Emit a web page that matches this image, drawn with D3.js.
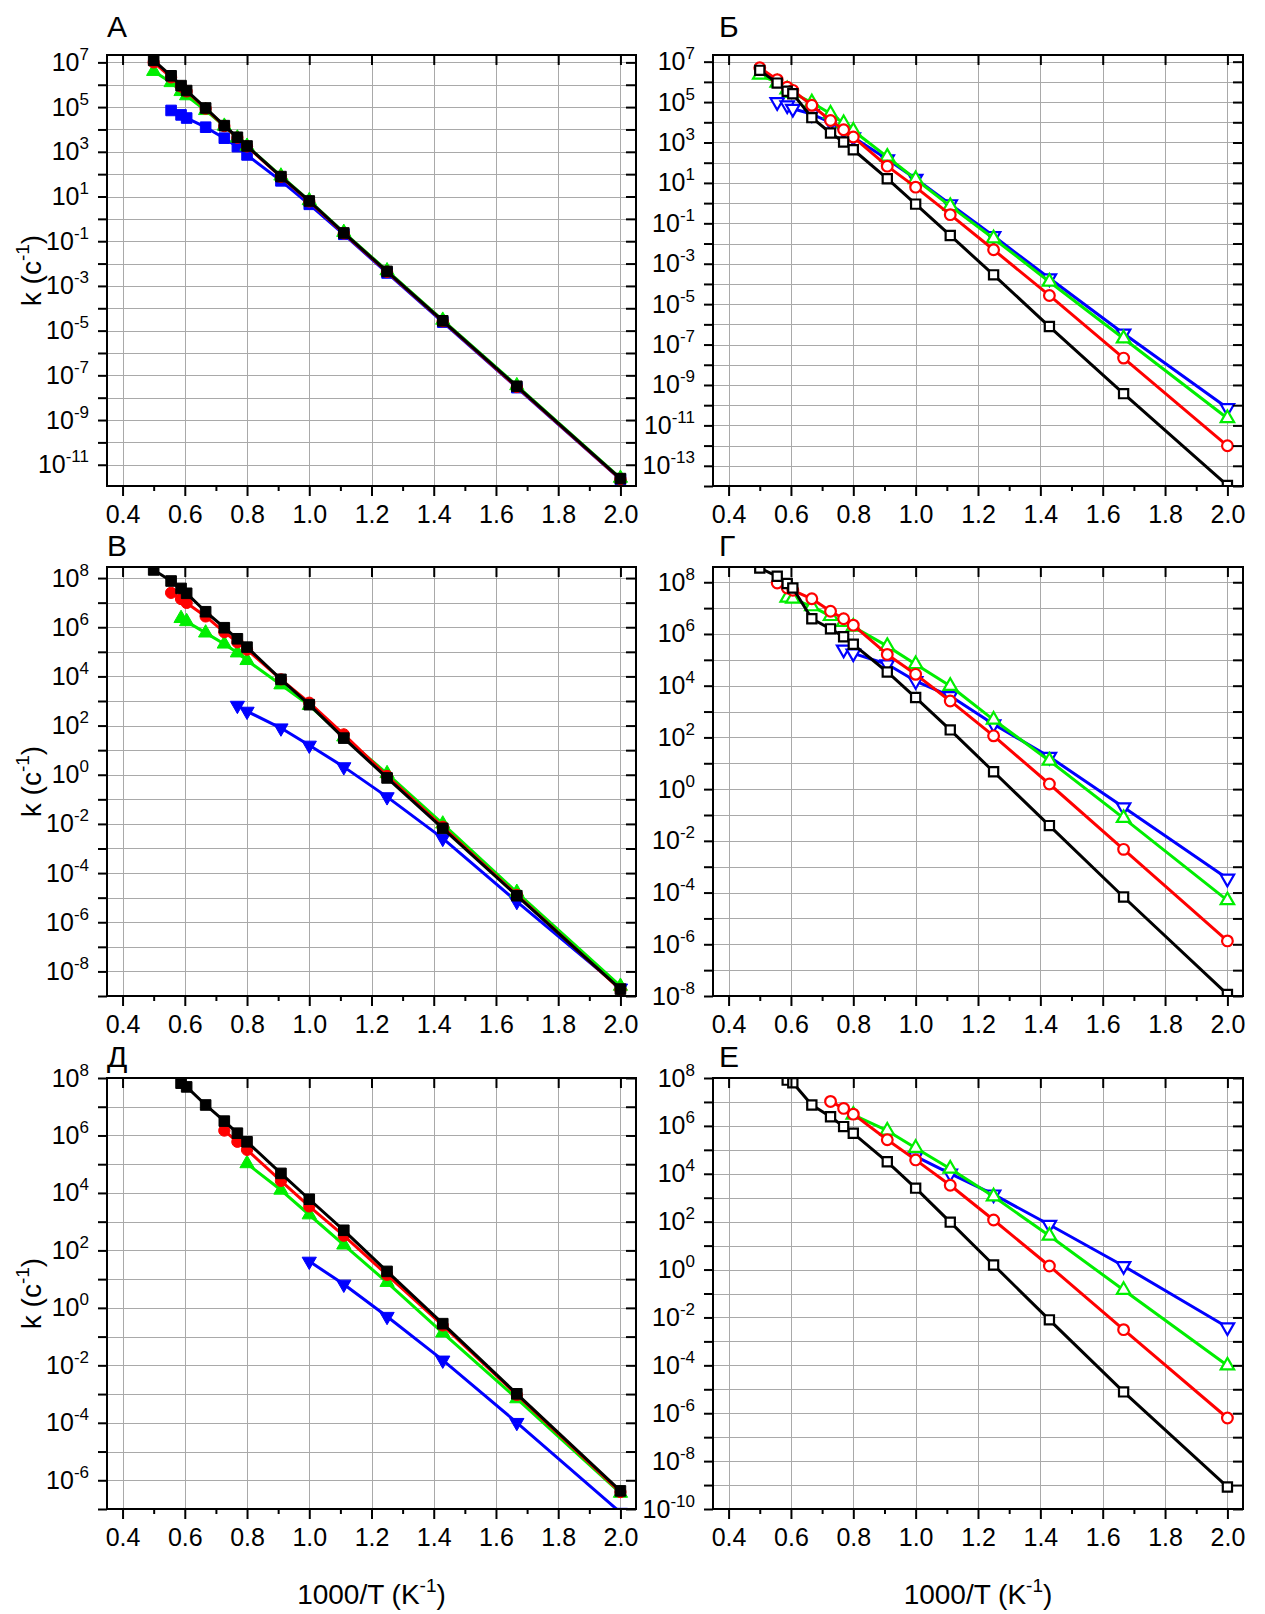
<!DOCTYPE html>
<html>
<head>
<meta charset="utf-8">
<script src="https://cdn.jsdelivr.net/npm/d3@7"></script>
<style>
  body { margin: 0; background: #fff; }
  svg text { font-family: "Liberation Sans", Arial, sans-serif; fill: #000; }
</style>
</head>
<body>
<svg id="chart" width="1265" height="1614"></svg>
<script>
// ---------------- DATA ----------------
// 1000/T (K^-1) for all series
const invT = [0.5, 0.556, 0.588, 0.606, 0.667, 0.727, 0.769, 0.8, 0.909, 1.0, 1.111, 1.25, 1.429, 1.667, 2.0];

// x-axis ticks
const xMajorTicks = [0.4, 0.6, 0.8, 1.0, 1.2, 1.4, 1.6, 1.8, 2.0];
const xMinorTicks = [0.5, 0.7, 0.9, 1.1, 1.3, 1.5, 1.7, 1.9];

// panel letters
const panelLetters = ["А", "Б", "В", "Г", "Д", "Е"];

// labelled y-tick exponents (k = 10^n)
const yLabelExpA = [7, 5, 3, 1, -1, -3, -5, -7, -9, -11];
const yLabelExpB = [7, 5, 3, 1, -1, -3, -5, -7, -9, -11, -13];
const yLabelExpV = [8, 6, 4, 2, 0, -2, -4, -6, -8];
const yLabelExpG = [8, 6, 4, 2, 0, -2, -4, -6, -8];
const yLabelExpD = [8, 6, 4, 2, 0, -2, -4, -6];
const yLabelExpE = [8, 6, 4, 2, 0, -2, -4, -6, -8, -10];

// y-axis ranges k (c^-1)
const yRangeA = [1.12e-12, 2.14e7];
const yRangeB = [1.0e-14, 2.14e7];
const yRangeV = [1.0e-9, 2.82e8];
const yRangeG = [1.0e-8, 3.89e8];
const yRangeD = [1.0e-7, 1.0e8];
const yRangeE = [1.0e-10, 1.0e8];

// Panel А (filled markers)
const kA_black = [1.23e7, 2.51e6, 9.12e5, 5.50e5, 9.12e4, 1.48e4, 4.47e3, 1.82e3, 7.76e1, 6.31, 2.34e-1, 4.47e-3, 2.75e-5, 3.24e-8, 2.40e-12];
const kA_red   = [1.0e7, 2.14e6, 8.32e5, 5.01e5, 8.51e4, 1.41e4, 4.27e3, 1.74e3, 7.59e1, 6.03, 2.24e-1, 4.27e-3, 2.63e-5, 3.02e-8, 2.29e-12];
const kA_green = [3.98e6, 1.26e6, 5.01e5, 3.24e5, 7.08e4, 1.41e4, 4.17e3, 1.78e3, 8.32e1, 6.61, 2.51e-1, 4.79e-3, 2.95e-5, 3.47e-8, 2.51e-12];
const kA_blue  = [null, 7.08e4, 4.47e4, 3.24e4, 1.26e4, 4.07e3, 1.70e3, 7.24e2, 5.01e1, 4.47, 2.04e-1, 3.80e-3, 2.40e-5, 2.82e-8, 2.19e-12];

// Panel Б (open markers)
const kB_black = [3.72e6, 8.71e5, 3.47e5, 2.57e5, 1.70e4, 2.95e3, 1.05e3, 4.37e2, 1.62e1, 8.91e-1, 2.51e-2, 2.82e-4, 7.76e-7, 3.72e-10, 1.07e-14];
const kB_red   = [5.01e6, 1.29e6, 5.50e5, 3.80e5, 6.92e4, 1.23e4, 4.27e3, 1.86e3, 6.76e1, 6.17, 2.69e-1, 4.90e-3, 2.69e-5, 2.14e-8, 9.77e-13];
const kB_green = [2.24e6, 9.12e5, 4.17e5, 2.82e5, 9.55e4, 2.63e4, 8.91e3, 3.80e3, 1.95e2, 1.51e1, 7.08e-1, 1.78e-2, 1.29e-4, 2.00e-7, 2.24e-11];
const kB_blue  = [null, 1.0e5, 6.92e4, 4.68e4, 2.57e4, 9.77e3, 3.98e3, 1.82e3, 1.48e2, 1.62e1, 8.91e-1, 2.34e-2, 1.91e-4, 3.55e-7, 7.24e-11];

// Panel В (filled markers)
const kV_black = [2.14e8, 7.59e7, 3.80e7, 2.40e7, 4.27e6, 9.55e5, 3.39e5, 1.55e5, 7.59e3, 7.08e2, 3.09e1, 7.41e-1, 6.61e-3, 1.20e-5, 1.91e-9];
const kV_red   = [null, 2.51e7, 1.41e7, 9.77e6, 2.75e6, 6.31e5, 2.45e5, 1.23e5, 7.59e3, 8.51e2, 4.37e1, 8.91e-1, 7.59e-3, 1.29e-5, 1.82e-9];
const kV_green = [null, null, 2.29e6, 1.70e6, 5.89e5, 2.09e5, 9.12e4, 4.47e4, 4.57e3, 6.61e2, 3.47e1, 1.12, 1.0e-2, 1.66e-5, 2.51e-9];
const kV_blue  = [null, null, null, null, null, null, 6.61e2, 3.80e2, 7.94e1, 1.58e1, 2.09, 1.26e-1, 2.57e-3, 6.92e-6, 2.09e-9];

// Panel Г (open markers)
const kG_black = [3.55e8, 1.70e8, 8.91e7, 6.03e7, 3.89e6, 1.58e6, 7.76e5, 3.98e5, 3.39e4, 3.47e3, 1.95e2, 4.68, 3.89e-2, 6.76e-5, 1.15e-8];
const kG_red   = [null, 9.33e7, 6.03e7, 4.90e7, 2.29e7, 7.59e6, 3.89e6, 2.19e6, 1.62e5, 2.75e4, 2.57e3, 1.15e2, 1.58, 4.68e-3, 1.35e-6];
const kG_green = [null, null, 2.51e7, 2.29e7, 1.17e7, 4.90e6, 2.88e6, 1.91e6, 3.39e5, 6.76e4, 9.77e3, 4.79e2, 1.26e1, 7.59e-2, 5.01e-5];
const kG_blue  = [null, null, null, null, null, null, 2.51e5, 1.78e5, 6.76e4, 1.51e4, 3.98e3, 3.24e2, 1.78e1, 2.00e-1, 3.47e-4];

// Panel Д (filled markers)
const kD_black = [null, null, 6.61e7, 4.90e7, 1.15e7, 3.16e6, 1.20e6, 6.03e5, 4.79e4, 6.03e3, 5.01e2, 1.86e1, 2.82e-1, 1.02e-3, 4.27e-7];
const kD_red   = [null, null, null, null, null, 1.48e6, 6.03e5, 3.16e5, 2.63e4, 3.39e3, 3.24e2, 1.41e1, 2.45e-1, 9.33e-4, 3.89e-7];
const kD_green = [null, null, null, null, null, null, null, 1.05e5, 1.26e4, 1.74e3, 1.55e2, 7.76, 1.35e-1, 6.92e-4, 3.55e-7];
const kD_blue  = [null, null, null, null, null, null, null, null, null, 4.17e1, 6.61, 5.01e-1, 1.51e-2, 1.02e-4, 7.59e-8];

// Panel Е (open markers)
const kE_black = [null, null, 8.13e7, 6.31e7, 7.41e6, 2.40e6, 9.33e5, 4.90e5, 3.16e4, 2.51e3, 9.55e1, 1.55, 7.94e-3, 7.76e-6, 8.32e-10];
const kE_red   = [null, null, null, null, null, 1.05e7, 5.37e6, 3.09e6, 2.63e5, 3.80e4, 3.31e3, 1.17e2, 1.41, 3.09e-3, 6.31e-7];
const kE_green = [null, null, null, null, null, null, null, 2.88e6, 6.31e5, 1.20e5, 1.62e4, 1.12e3, 2.57e1, 1.41e-1, 9.77e-5];
const kE_blue  = [null, null, null, null, null, null, null, null, null, 5.37e4, 1.02e4, 1.38e3, 7.41e1, 1.41, 3.89e-3];

// ---------------- CONFIG ----------------
const panels = [
  { letter: panelLetters[0], yRange: yRangeA, yLabels: yLabelExpA, open: false, blueShape: "square",
    series: { blue: kA_blue, green: kA_green, red: kA_red, black: kA_black } },
  { letter: panelLetters[1], yRange: yRangeB, yLabels: yLabelExpB, open: true, blueShape: "down",
    series: { blue: kB_blue, green: kB_green, red: kB_red, black: kB_black } },
  { letter: panelLetters[2], yRange: yRangeV, yLabels: yLabelExpV, open: false, blueShape: "down",
    series: { blue: kV_blue, green: kV_green, red: kV_red, black: kV_black } },
  { letter: panelLetters[3], yRange: yRangeG, yLabels: yLabelExpG, open: true, blueShape: "down",
    series: { blue: kG_blue, green: kG_green, red: kG_red, black: kG_black } },
  { letter: panelLetters[4], yRange: yRangeD, yLabels: yLabelExpD, open: false, blueShape: "down",
    series: { blue: kD_blue, green: kD_green, red: kD_red, black: kD_black } },
  { letter: panelLetters[5], yRange: yRangeE, yLabels: yLabelExpE, open: true, blueShape: "down",
    series: { blue: kE_blue, green: kE_green, red: kE_red, black: kE_black } }
];

const colX = [[107, 636], [713, 1243]];
const rowY = [[55, 486], [567, 996], [1078, 1509]];
const letterBaseline = [37, 556, 1067];
const letterX = [107, 719];

const colors = { black: "#000000", red: "#ff0000", green: "#00ee00", blue: "#0000ff" };
const shapes = { black: "square", red: "circle", green: "up" };

const svg = d3.select("#chart");
const defs = svg.append("defs");

function symbolPath(shape, open) {
  if (shape === "square") return d3.symbol().type(d3.symbolSquare).size(open ? 85 : 112)();
  if (shape === "circle") return d3.symbol().type(d3.symbolCircle).size(open ? 90 : 100)();
  return d3.symbol().type(d3.symbolTriangle).size(open ? 78 : 88)();
}

panels.forEach((p, i) => {
  const col = i % 2, row = Math.floor(i / 2);
  const [x0, x1] = colX[col];
  const [y0, y1] = rowY[row];

  const x = d3.scaleLinear().domain([0.35, 2.05]).range([x0, x1]);
  const y = d3.scaleLog().domain(p.yRange).range([y1, y0]);

  const g = svg.append("g");
  const clipId = "clip" + i;
  defs.append("clipPath").attr("id", clipId)
    .append("rect").attr("x", x0).attr("y", y0).attr("width", x1 - x0).attr("height", y1 - y0);

  // one tick per decade inside the axis range
  const eLo = Math.ceil(Math.log10(p.yRange[0]) - 1e-9);
  const eHi = Math.floor(Math.log10(p.yRange[1]) + 1e-9);
  const decades = d3.range(eLo, eHi + 1).map(e => +("1e" + e));

  // grid
  const grid = g.append("g");
  grid.selectAll("line.h").data(decades).join("line")
    .attr("x1", x0).attr("x2", x1)
    .attr("y1", d => Math.round(y(d)) + 0.5).attr("y2", d => Math.round(y(d)) + 0.5)
    .attr("stroke", "#a9a9a9").attr("stroke-width", 1);
  grid.selectAll("line.v").data(xMajorTicks).join("line")
    .attr("x1", d => Math.round(x(d)) + 0.5).attr("x2", d => Math.round(x(d)) + 0.5)
    .attr("y1", y0).attr("y2", y1)
    .attr("stroke", "#a9a9a9").attr("stroke-width", 1);

  // series
  const plot = g.append("g").attr("clip-path", `url(#${clipId})`);
  ["blue", "green", "red", "black"].forEach(name => {
    const vals = p.series[name];
    const pts = invT.map((t, j) => ({ t, k: vals[j] })).filter(d => d.k != null);
    const line = d3.line().x(d => x(d.t)).y(d => y(d.k));
    plot.append("path").datum(pts)
      .attr("d", line)
      .attr("fill", "none")
      .attr("stroke", colors[name])
      .attr("stroke-width", 3)
      .attr("stroke-linejoin", "round");
    const shape = name === "blue" ? p.blueShape : shapes[name];
    const path = symbolPath(shape, p.open);
    plot.selectAll(null).data(pts).join("path")
      .attr("d", path)
      .attr("transform", d => `translate(${x(d.t)},${y(d.k)})` + (shape === "down" ? " rotate(180)" : ""))
      .attr("fill", p.open ? "#ffffff" : colors[name])
      .attr("stroke", colors[name])
      .attr("stroke-width", p.open ? 2.2 : 1);
  });

  // axes
  const styleAxis = sel => {
    sel.select(".domain").remove();
    sel.selectAll(".tick line").attr("stroke", "#000").attr("stroke-width", 2);
    sel.selectAll("text").attr("font-size", 25).attr("font-family", '"Liberation Sans", Arial, sans-serif');
  };

  g.append("g").attr("transform", `translate(0,${y1})`)
    .call(d3.axisBottom(x).tickValues(xMajorTicks).tickSize(10).tickPadding(9).tickFormat(d3.format(".1f")))
    .call(styleAxis);
  g.append("g").attr("transform", `translate(0,${y1})`)
    .call(d3.axisBottom(x).tickValues(xMinorTicks).tickSize(5).tickFormat(""))
    .call(styleAxis);
  g.append("g").attr("transform", `translate(0,${y0})`)
    .call(d3.axisTop(x).tickValues(xMajorTicks).tickSize(-10).tickFormat(""))
    .call(styleAxis);
  g.append("g").attr("transform", `translate(${x1},0)`)
    .call(d3.axisRight(y).tickValues(decades).tickSize(-10).tickFormat(""))
    .call(styleAxis);

  const left = g.append("g").attr("transform", `translate(${x0},0)`)
    .call(d3.axisLeft(y).tickValues(decades).tickSize(9).tickPadding(9).tickFormat(""))
    .call(styleAxis);
  left.selectAll(".tick text").each(function (d) {
    const e = Math.round(Math.log10(d));
    if (!p.yLabels.includes(e)) return;
    const t = d3.select(this).text(null);
    t.append("tspan").text("10");
    t.append("tspan").attr("dy", -11).attr("font-size", 17).text(String(e));
  });

  // frame
  g.append("rect").attr("x", x0).attr("y", y0).attr("width", x1 - x0).attr("height", y1 - y0)
    .attr("fill", "none").attr("stroke", "#000").attr("stroke-width", 2);

  // panel letter
  svg.append("text").attr("x", letterX[col]).attr("y", letterBaseline[row])
    .attr("font-size", 30).text(p.letter);

  // y axis title
  if (col === 0) {
    const ty = svg.append("text")
      .attr("transform", `translate(41,${(y0 + y1) / 2}) rotate(-90)`)
      .attr("text-anchor", "middle").attr("font-size", 28);
    ty.append("tspan").text("k (c");
    ty.append("tspan").attr("dy", -12).attr("font-size", 19).text("-1");
    ty.append("tspan").attr("dy", 12).text(")");
  }
  // x axis title
  if (row === 2) {
    const tx = svg.append("text")
      .attr("x", (x0 + x1) / 2).attr("y", 1604)
      .attr("text-anchor", "middle").attr("font-size", 28);
    tx.append("tspan").text("1000/T (K");
    tx.append("tspan").attr("dy", -12).attr("font-size", 19).text("-1");
    tx.append("tspan").attr("dy", 12).text(")");
  }
});
</script>
</body>
</html>
